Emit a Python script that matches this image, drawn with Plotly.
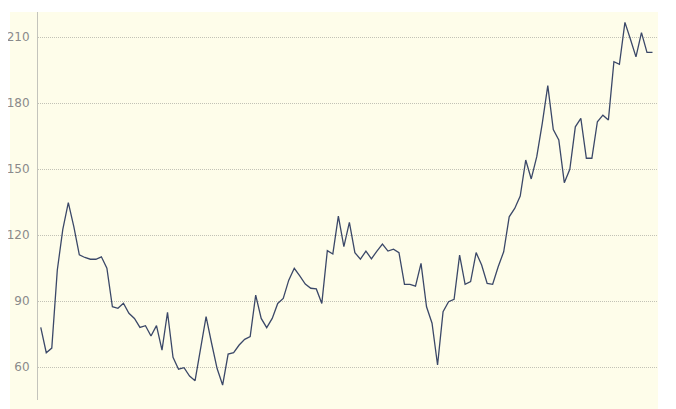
import plotly.graph_objects as go

values = [
    78, 66.5, 68.6, 104, 122.6, 134.7, 123.8, 111, 109.8, 109, 109, 110.1, 104.9, 87.4, 86.7, 89,
    84.4, 82.1, 78, 78.8, 74.1, 78.8, 67.7, 84.9, 64.4, 59, 59.7, 55.9, 53.8, 68, 82.9, 70.8,
    59.3, 51.8, 65.9, 66.5, 70, 72.6, 73.8, 92.7, 82.1, 77.9, 82.1, 88.9, 91.2, 99.5, 104.9,
    101.4, 97.7, 95.8, 95.5, 88.9, 112.9, 111.4, 128.6, 114.7, 125.8, 112, 109, 112.7, 109.2,
    112.7, 115.9, 112.7, 113.6, 112, 97.6, 97.6, 96.8, 107.1, 87.4, 79.9, 60.9, 85.1, 89.7,
    90.8, 110.9, 97.6, 98.8, 112, 106.4, 98, 97.6, 105.6, 112.4, 128.3, 132.1, 137.7, 154.1,
    145.5, 155.6, 170.8, 187.9, 168, 163.2, 143.8, 149.9, 169.2, 173, 154.9, 154.9, 171.5,
    174.5, 172.3, 198.8, 197.6, 216.7, 209, 201, 212, 203, 203,
]
x_index = list(range(len(values)))
y_ticks = [60, 90, 120, 150, 180, 210]

# page body has an 8px margin, so the figure starts at (8, 8) in the window
W, H = 668, 401
ml, mr, mt, mb = 30, 18, 4, 9
pw, ph = W - ml - mr, H - mt - mb

cream = "#fefdea"

fig = go.Figure()
fig.add_trace(go.Scatter(
    x=x_index, y=values, mode="lines",
    line=dict(color="#3b4868", width=1.3),
    hoverinfo="skip", showlegend=False,
))

fig.add_shape(
    type="rect", xref="paper", yref="paper",
    x0=(2 - ml) / pw, x1=1, y0=-mb / ph - 0.01, y1=1,
    fillcolor=cream, line=dict(width=0), layer="below",
)

fig.update_layout(
    width=W, height=H,
    margin=dict(l=ml, r=mr, t=mt, b=mb, pad=0, autoexpand=False),
    paper_bgcolor="white", plot_bgcolor=cream,
    font=dict(family="DejaVu Sans", size=12, color="#808080"),
    xaxis=dict(visible=False, range=[-0.5, 112], automargin=False),
    yaxis=dict(
        range=[45, 221.4], tickvals=y_ticks, ticktext=[str(v) for v in y_ticks],
        showgrid=True, gridcolor="#c2c2b6", griddash="1px,1px", gridwidth=1,
        showline=True, linecolor="#c4c4bc", linewidth=1, automargin=False,
        zeroline=False, ticks="", ticklabelstandoff=5,
        tickfont=dict(family="DejaVu Sans", size=12, color="#8a8a8a"),
    ),
)

fig.write_html("out.html")
